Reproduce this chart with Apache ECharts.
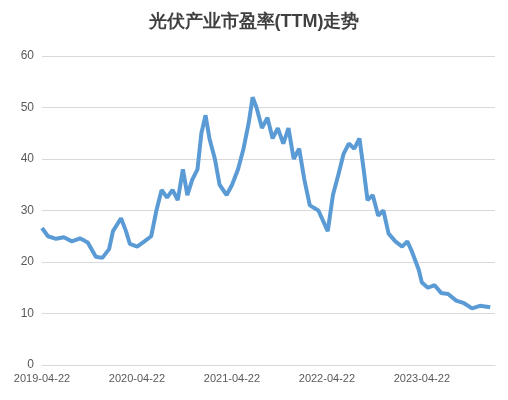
<!DOCTYPE html>
<html><head><meta charset="utf-8">
<script src="https://cdn.jsdelivr.net/npm/echarts@6/dist/echarts.min.js"></script>
<style>html,body{margin:0;padding:0;background:#fff}#c{width:508px;height:400px}</style>
</head><body><div id="c"></div>
<script>
const dates=["2019-04-22","2019-05-15","2019-06-15","2019-07-15","2019-08-15","2019-09-15","2019-10-15","2019-11-15","2019-12-10","2020-01-05","2020-01-20","2020-02-20","2020-03-10","2020-03-25","2020-04-22","2020-05-20","2020-06-15","2020-07-05","2020-07-25","2020-08-15","2020-09-05","2020-09-25","2020-10-15","2020-11-01","2020-11-20","2020-12-10","2020-12-25","2021-01-10","2021-01-25","2021-02-15","2021-03-05","2021-04-01","2021-04-22","2021-05-15","2021-06-05","2021-06-25","2021-07-10","2021-07-25","2021-08-15","2021-09-05","2021-09-25","2021-10-15","2021-11-05","2021-11-25","2021-12-15","2022-01-05","2022-01-25","2022-02-15","2022-03-20","2022-04-25","2022-05-15","2022-06-05","2022-06-25","2022-07-15","2022-08-05","2022-08-25","2022-09-10","2022-09-25","2022-10-15","2022-11-05","2022-11-25","2022-12-15","2023-01-10","2023-02-05","2023-02-25","2023-03-15","2023-04-10","2023-04-22","2023-05-15","2023-06-10","2023-07-05","2023-08-01","2023-09-01","2023-10-01","2023-11-01","2023-12-01","2024-01-10"];
const pe=[26.6,25.0,24.5,24.8,24.0,24.6,23.8,21.0,20.8,22.5,26.0,28.5,26,23.5,23.0,24,25,30,34,32.5,34,32,38,33,36,38,45,48.5,44,40,35,33,35,38,42,47,52,50,46,48,44,46,43,46,40,42,36,31,30,26,33,37,41,43,42,44,38,32,33,29,30,25.5,24,23,24,22,18.5,16,15,15.5,14,13.8,12.5,12,11,11.5,11.2];
const yTicks=[0,10,20,30,40,50,60];
const DAY=86400000, YEAR=365.25*DAY;
const t0=Date.parse("2019-04-22");
const chart=echarts.init(document.getElementById('c'));
chart.setOption({
 title:{text:"光伏产业市盈率(TTM)走势",left:"center",top:8,textStyle:{fontSize:18,fontWeight:"bold",color:"#404040"}},
 grid:{left:42,right:13,top:56,bottom:35},
 xAxis:{type:"value",min:t0,max:t0+4.77*YEAR,interval:YEAR,
  axisLine:{lineStyle:{color:"#d9d9d9"}},axisTick:{show:false},splitLine:{show:false},
  axisLabel:{color:"#595959",fontSize:11,formatter:v=>{const y=2019+Math.round((v-t0)/YEAR);return y+"-04-22";},showMaxLabel:false}},
 yAxis:{type:"value",min:yTicks[0],max:yTicks[yTicks.length-1],interval:10,
  axisLine:{show:false},axisTick:{show:false},
  splitLine:{lineStyle:{color:"#d9d9d9"}},axisLabel:{color:"#595959",fontSize:12}},
 series:[{type:"line",data:dates.map((d,i)=>[Date.parse(d),pe[i]]),showSymbol:false,
  lineStyle:{width:4,color:"#5b9bd5"}}]
});
</script></body></html>
